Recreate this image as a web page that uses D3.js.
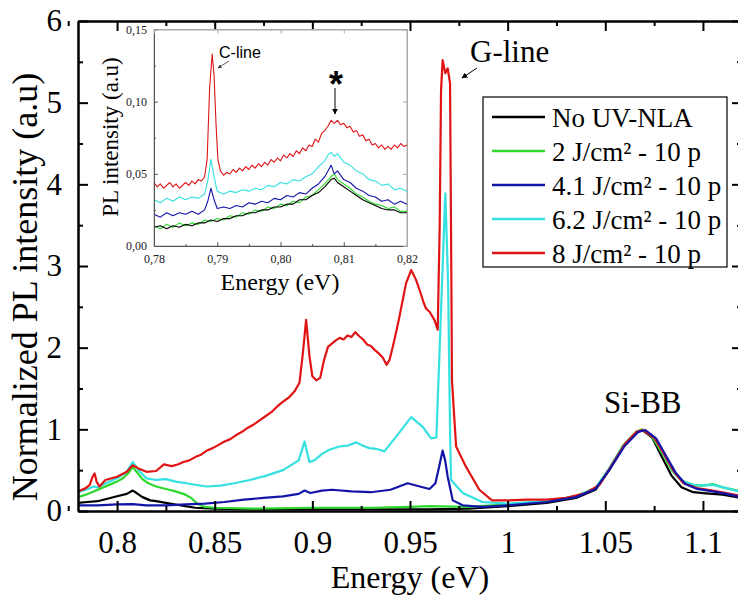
<!DOCTYPE html>
<html>
<head>
<meta charset="utf-8">
<script src="https://cdn.jsdelivr.net/npm/d3@7"></script>
<style>
  body { margin: 0; background: #fff; }
  svg { display: block; font-family: "Liberation Serif", "Times New Roman", serif; }
</style>
</head>
<body>
<svg id="chart" width="738" height="597"></svg>
<script>
"use strict";

// series names and colours (legend order)
const seriesNames = ["No UV-NLA", "2 J/cm\u00b2 - 10 p", "4.1 J/cm\u00b2 - 10 p", "6.2 J/cm\u00b2 - 10 p", "8 J/cm\u00b2 - 10 p"];
const seriesColors = ["#000000", "#2fd82f", "#1414a8", "#35e0e0", "#e01414"];

// main spectra: [energy eV, normalized intensity]
const blackMain = [[0.78,0.10],[0.785,0.11],[0.79,0.12],[0.795,0.15],[0.80,0.18],[0.805,0.21],[0.808,0.25],[0.810,0.22],[0.813,0.17],[0.817,0.13],[0.82,0.12],[0.825,0.10],[0.83,0.08],[0.835,0.06],[0.84,0.04],[0.85,0.03],[0.87,0.02],[0.9,0.02],[0.93,0.02],[0.96,0.02],[0.98,0.03],[1.0,0.06],[1.02,0.10],[1.035,0.16],[1.045,0.26],[1.052,0.50],[1.059,0.78],[1.0657,0.96],[1.069,0.99],[1.074,0.90],[1.079,0.66],[1.084,0.43],[1.089,0.29],[1.095,0.23],[1.10,0.22],[1.11,0.20],[1.12,0.16]];
const greenMain = [[0.78,0.17],[0.784,0.20],[0.788,0.24],[0.792,0.28],[0.796,0.32],[0.80,0.36],[0.803,0.40],[0.806,0.47],[0.808,0.54],[0.810,0.48],[0.813,0.39],[0.816,0.34],[0.82,0.30],[0.825,0.27],[0.83,0.24],[0.835,0.20],[0.838,0.16],[0.841,0.09],[0.845,0.05],[0.85,0.04],[0.87,0.03],[0.9,0.04],[0.93,0.04],[0.95,0.05],[0.96,0.06],[0.98,0.05],[1.0,0.08],[1.02,0.12],[1.035,0.18],[1.045,0.28],[1.052,0.52],[1.059,0.80],[1.0657,0.97],[1.069,1.0],[1.074,0.91],[1.079,0.71],[1.084,0.50],[1.089,0.37],[1.095,0.32],[1.10,0.31],[1.105,0.33],[1.11,0.29],[1.12,0.24]];
const blueMain = [[0.78,0.07],[0.79,0.07],[0.80,0.08],[0.808,0.085],[0.815,0.07],[0.825,0.07],[0.835,0.08],[0.845,0.09],[0.855,0.11],[0.865,0.14],[0.875,0.16],[0.885,0.18],[0.893,0.21],[0.896,0.25],[0.899,0.22],[0.905,0.25],[0.91,0.26],[0.92,0.24],[0.93,0.23],[0.94,0.26],[0.9488,0.34],[0.955,0.30],[0.960,0.27],[0.963,0.34],[0.965,0.55],[0.9667,0.74],[0.968,0.62],[0.9693,0.42],[0.9719,0.13],[0.977,0.07],[0.987,0.05],[1.0,0.07],[1.02,0.11],[1.035,0.17],[1.045,0.27],[1.052,0.50],[1.06,0.80],[1.067,0.97],[1.0705,0.99],[1.076,0.89],[1.081,0.68],[1.086,0.47],[1.091,0.33],[1.097,0.27],[1.105,0.24],[1.112,0.21],[1.12,0.17]];
const cyanMain = [[0.78,0.23],[0.785,0.27],[0.788,0.30],[0.79,0.29],[0.795,0.35],[0.80,0.40],[0.805,0.48],[0.808,0.60],[0.811,0.50],[0.815,0.40],[0.82,0.38],[0.825,0.39],[0.83,0.36],[0.8354,0.34],[0.8457,0.30],[0.853,0.31],[0.86,0.34],[0.868,0.38],[0.876,0.43],[0.885,0.50],[0.893,0.62],[0.896,0.85],[0.8985,0.60],[0.901,0.62],[0.905,0.70],[0.9087,0.75],[0.9138,0.79],[0.918,0.80],[0.9224,0.84],[0.926,0.80],[0.9292,0.77],[0.933,0.76],[0.9369,0.73],[0.9429,0.91],[0.9506,1.15],[0.9565,1.03],[0.9608,0.89],[0.9635,0.90],[0.9655,2.2],[0.9681,3.89],[0.9695,2.8],[0.9705,1.0],[0.971,0.38],[0.977,0.22],[0.987,0.11],[1.0,0.09],[1.02,0.12],[1.035,0.18],[1.045,0.28],[1.052,0.52],[1.059,0.79],[1.066,0.97],[1.0695,0.99],[1.075,0.90],[1.08,0.69],[1.085,0.48],[1.09,0.36],[1.097,0.31],[1.105,0.32],[1.112,0.28],[1.12,0.23]];
const redMain = [[0.78,0.24],[0.784,0.28],[0.786,0.32],[0.7875,0.42],[0.7885,0.46],[0.7895,0.36],[0.791,0.30],[0.794,0.38],[0.80,0.42],[0.805,0.48],[0.808,0.56],[0.811,0.52],[0.815,0.48],[0.82,0.49],[0.824,0.57],[0.828,0.55],[0.831,0.57],[0.834,0.60],[0.837,0.62],[0.840,0.66],[0.843,0.69],[0.846,0.74],[0.849,0.77],[0.852,0.81],[0.855,0.85],[0.858,0.88],[0.861,0.93],[0.864,0.97],[0.867,1.02],[0.870,1.06],[0.873,1.11],[0.876,1.16],[0.879,1.21],[0.882,1.28],[0.885,1.34],[0.888,1.39],[0.891,1.47],[0.8934,1.57],[0.895,1.9],[0.8968,2.34],[0.8985,1.9],[0.900,1.65],[0.902,1.60],[0.904,1.63],[0.906,1.85],[0.908,2.01],[0.910,2.05],[0.912,2.09],[0.914,2.12],[0.916,2.10],[0.918,2.15],[0.920,2.13],[0.922,2.19],[0.924,2.14],[0.926,2.10],[0.928,2.04],[0.930,2.02],[0.932,1.97],[0.934,1.93],[0.936,1.88],[0.938,1.79],[0.9395,1.85],[0.9412,2.01],[0.943,2.20],[0.9446,2.38],[0.946,2.55],[0.948,2.79],[0.9506,2.95],[0.9531,2.83],[0.955,2.70],[0.957,2.55],[0.9582,2.48],[0.960,2.44],[0.9625,2.34],[0.9642,2.22],[0.9652,3.5],[0.9659,5.15],[0.9667,5.52],[0.9681,5.36],[0.9693,5.42],[0.9705,5.24],[0.971,3.5],[0.9715,1.6],[0.9736,0.79],[0.9787,0.54],[0.9855,0.26],[0.992,0.13],[1.0,0.13],[1.01,0.14],[1.02,0.14],[1.03,0.16],[1.04,0.22],[1.047,0.32],[1.053,0.55],[1.06,0.82],[1.066,0.97],[1.069,0.99],[1.075,0.90],[1.08,0.70],[1.085,0.49],[1.09,0.34],[1.097,0.28],[1.105,0.25],[1.112,0.22],[1.12,0.18]];

// inset spectra: [energy eV, PL intensity]
const blackInset = [[0.78,0.013],[0.781,0.014],[0.782,0.012],[0.783,0.014],[0.784,0.013],[0.785,0.015],[0.786,0.014],[0.787,0.016],[0.788,0.016],[0.789,0.018],[0.790,0.017],[0.791,0.019],[0.792,0.019],[0.793,0.021],[0.794,0.021],[0.795,0.023],[0.796,0.023],[0.797,0.025],[0.798,0.025],[0.799,0.027],[0.800,0.027],[0.801,0.029],[0.802,0.029],[0.803,0.032],[0.804,0.032],[0.805,0.035],[0.806,0.037],[0.807,0.041],[0.808,0.046],[0.8085,0.047],[0.809,0.044],[0.810,0.041],[0.811,0.038],[0.812,0.035],[0.813,0.032],[0.814,0.030],[0.815,0.028],[0.816,0.026],[0.817,0.025],[0.818,0.025],[0.819,0.023],[0.82,0.023]];
const greenInset = [[0.78,0.014],[0.781,0.012],[0.782,0.015],[0.783,0.013],[0.784,0.016],[0.785,0.014],[0.786,0.016],[0.787,0.015],[0.788,0.018],[0.789,0.017],[0.790,0.019],[0.791,0.018],[0.792,0.021],[0.793,0.020],[0.794,0.023],[0.795,0.022],[0.796,0.025],[0.797,0.024],[0.798,0.027],[0.799,0.026],[0.800,0.029],[0.801,0.028],[0.802,0.031],[0.803,0.030],[0.804,0.034],[0.805,0.035],[0.806,0.039],[0.807,0.043],[0.808,0.048],[0.8085,0.050],[0.809,0.046],[0.810,0.043],[0.811,0.040],[0.812,0.036],[0.813,0.034],[0.814,0.031],[0.815,0.029],[0.816,0.028],[0.817,0.026],[0.818,0.027],[0.819,0.024],[0.82,0.024]];
const blueInset = [[0.78,0.022],[0.781,0.020],[0.782,0.023],[0.783,0.021],[0.784,0.023],[0.785,0.022],[0.786,0.024],[0.787,0.022],[0.788,0.025],[0.7885,0.031],[0.789,0.040],[0.7895,0.032],[0.790,0.026],[0.791,0.027],[0.792,0.026],[0.793,0.028],[0.794,0.027],[0.795,0.030],[0.796,0.029],[0.797,0.031],[0.798,0.030],[0.799,0.033],[0.800,0.032],[0.801,0.035],[0.802,0.034],[0.803,0.037],[0.804,0.036],[0.805,0.040],[0.806,0.043],[0.807,0.048],[0.808,0.056],[0.8085,0.050],[0.809,0.052],[0.810,0.046],[0.811,0.044],[0.812,0.040],[0.813,0.038],[0.814,0.035],[0.815,0.034],[0.816,0.031],[0.817,0.032],[0.818,0.029],[0.819,0.031],[0.82,0.029]];
const cyanInset = [[0.78,0.032],[0.781,0.030],[0.782,0.033],[0.783,0.031],[0.784,0.034],[0.785,0.032],[0.786,0.034],[0.787,0.033],[0.788,0.036],[0.7885,0.045],[0.789,0.060],[0.7895,0.048],[0.790,0.038],[0.791,0.036],[0.792,0.038],[0.793,0.037],[0.794,0.039],[0.795,0.038],[0.796,0.040],[0.797,0.039],[0.798,0.042],[0.799,0.041],[0.800,0.044],[0.801,0.043],[0.802,0.046],[0.803,0.045],[0.804,0.048],[0.805,0.050],[0.806,0.055],[0.807,0.059],[0.8075,0.063],[0.808,0.065],[0.8085,0.062],[0.809,0.064],[0.810,0.058],[0.811,0.056],[0.812,0.052],[0.813,0.050],[0.814,0.046],[0.815,0.045],[0.816,0.042],[0.817,0.043],[0.818,0.039],[0.819,0.040],[0.82,0.038]];
const redInset = [[0.78,0.044],[0.7805,0.041],[0.781,0.043],[0.7815,0.040],[0.782,0.042],[0.7825,0.044],[0.783,0.041],[0.7835,0.043],[0.784,0.040],[0.7845,0.042],[0.785,0.044],[0.7855,0.042],[0.786,0.045],[0.7865,0.043],[0.787,0.046],[0.7875,0.045],[0.788,0.048],[0.7884,0.060],[0.7888,0.110],[0.7892,0.133],[0.7895,0.118],[0.7898,0.085],[0.7901,0.060],[0.7905,0.052],[0.791,0.049],[0.7915,0.051],[0.792,0.050],[0.7925,0.053],[0.793,0.051],[0.7935,0.054],[0.794,0.052],[0.7945,0.055],[0.795,0.053],[0.7955,0.056],[0.796,0.054],[0.7965,0.057],[0.797,0.055],[0.7975,0.058],[0.798,0.056],[0.7985,0.060],[0.799,0.058],[0.7995,0.061],[0.800,0.059],[0.8005,0.063],[0.801,0.061],[0.8015,0.064],[0.802,0.062],[0.8025,0.066],[0.803,0.064],[0.8035,0.068],[0.804,0.066],[0.8045,0.070],[0.805,0.069],[0.8055,0.074],[0.806,0.072],[0.8065,0.078],[0.807,0.080],[0.8075,0.083],[0.808,0.087],[0.8085,0.085],[0.809,0.087],[0.8095,0.084],[0.810,0.085],[0.8105,0.082],[0.811,0.083],[0.8115,0.079],[0.812,0.080],[0.8125,0.076],[0.813,0.077],[0.8135,0.073],[0.814,0.074],[0.8145,0.070],[0.815,0.071],[0.8155,0.068],[0.816,0.070],[0.8165,0.067],[0.817,0.069],[0.8175,0.067],[0.818,0.070],[0.8185,0.068],[0.819,0.071],[0.8195,0.069],[0.82,0.070]];

// ticks
const mainXTicks = [0.8, 0.85, 0.9, 0.95, 1, 1.05, 1.1];
const mainXMinor = [0.775, 0.825, 0.875, 0.925, 0.975, 1.025, 1.075, 1.125];
const mainYTicks = [0, 1, 2, 3, 4, 5, 6];
const mainYMinor = [0.5, 1.5, 2.5, 3.5, 4.5, 5.5];
const insetXTicks = [0.78, 0.79, 0.80, 0.81, 0.82];
const insetXMinor = [0.785, 0.795, 0.805, 0.815];
const insetYTicks = [0, 0.05, 0.10, 0.15];
const insetYMinor = [0.025, 0.075, 0.125];

const mainSeries = [blackMain, greenMain, blueMain, cyanMain, redMain];
const insetSeries = [blackInset, greenInset, blueInset, cyanInset, redInset];
const drawOrder = [0, 1, 3, 4, 2];
const insetOrder = [1, 0, 2, 3, 4];

const serif = "Liberation Serif";
const svg = d3.select("#chart");

// ---------- main plot ----------
const x = d3.scaleLinear().domain([0.78, 1.12]).range([78, 742]);
const y = d3.scaleLinear().domain([0, 6]).range([511, 21]);

const line = d3.line().x(d => x(d[0])).y(d => y(d[1]));

svg.append("clipPath").attr("id", "mainClip")
    .append("rect").attr("x", x.range()[0]).attr("y", y.range()[1])
    .attr("width", x.range()[1] - x.range()[0]).attr("height", y.range()[0] - y.range()[1]);

const curves = svg.append("g").attr("clip-path", "url(#mainClip)");
drawOrder.forEach(i => {
    curves.append("path")
        .datum(mainSeries[i])
        .attr("fill", "none")
        .attr("stroke", seriesColors[i])
        .attr("stroke-width", 2.2)
        .attr("stroke-linejoin", "round")
        .attr("d", line);
});

function styleAxis(g) {
    g.attr("font-family", serif);
    g.select(".domain").attr("stroke", "#000").attr("stroke-width", 2);
    g.selectAll(".tick line").attr("stroke", "#000").attr("stroke-width", 2);
    g.selectAll(".tick text").attr("font-size", 31).attr("fill", "#000");
}

function addAxis(axis, transform, values, size, fmt) {
    svg.append("g").attr("transform", transform)
        .call(axis.tickValues(values).tickSizeInner(-size).tickSizeOuter(0).tickFormat(fmt))
        .call(styleAxis);
}

addAxis(d3.axisBottom(x).tickPadding(20), `translate(0,${y(0)})`, mainXTicks, 10, d3.format(""));
addAxis(d3.axisBottom(x), `translate(0,${y(0)})`, mainXMinor, 5, "");
addAxis(d3.axisTop(x), `translate(0,${y(6)})`, mainXTicks, 10, "");
addAxis(d3.axisTop(x), `translate(0,${y(6)})`, mainXMinor, 5, "");
addAxis(d3.axisLeft(y).tickPadding(16), `translate(${x(0.78)},0)`, mainYTicks, 10, d3.format("d"));
addAxis(d3.axisLeft(y), `translate(${x(0.78)},0)`, mainYMinor, 5, "");
addAxis(d3.axisRight(y), `translate(${x(1.12)},0)`, mainYTicks, 10, "");
addAxis(d3.axisRight(y), `translate(${x(1.12)},0)`, mainYMinor, 5, "");

// axis titles
svg.append("text")
    .attr("x", 410).attr("y", 588)
    .attr("text-anchor", "middle").attr("font-size", 32)
    .text("Energy (eV)");
svg.append("text")
    .attr("transform", "translate(37,287) rotate(-90)")
    .attr("text-anchor", "middle").attr("font-size", 36)
    .text("Normalized PL intensity (a.u)");

// peak labels
svg.append("defs").html(
    '<marker id="arrowHead" viewBox="0 0 10 10" refX="9" refY="5" markerWidth="6" markerHeight="6" orient="auto-start-reverse">' +
    '<path d="M0,0 L10,5 L0,10 z" fill="#000"/></marker>' +
    '<marker id="arrowSmall" viewBox="0 0 10 10" refX="9" refY="5" markerWidth="5" markerHeight="5" orient="auto-start-reverse">' +
    '<path d="M0,0 L10,5 L0,10 z" fill="#333"/></marker>');

svg.append("text").attr("x", 470).attr("y", 62).attr("font-size", 31).text("G-line");
svg.append("line").attr("x1", 477).attr("y1", 68).attr("x2", 462).attr("y2", 78)
    .attr("stroke", "#000").attr("stroke-width", 1).attr("marker-end", "url(#arrowHead)");
svg.append("text").attr("x", 604).attr("y", 413).attr("font-size", 31).text("Si-BB");

// legend
const legend = svg.append("g");
legend.append("rect").attr("x", 483).attr("y", 97).attr("width", 244).attr("height", 170)
    .attr("fill", "#fff").attr("stroke", "#000").attr("stroke-width", 1.2);
seriesNames.forEach((name, i) => {
    const ly = 117 + i * 34;
    legend.append("line").attr("x1", 492).attr("x2", 545).attr("y1", ly).attr("y2", ly)
        .attr("stroke", seriesColors[i]).attr("stroke-width", 2.5);
    legend.append("text").attr("x", 552).attr("y", ly + 10).attr("font-size", 27).text(name);
});

// ---------- inset ----------
const ix = d3.scaleLinear().domain([0.78, 0.82]).range([154, 407]);
const iy = d3.scaleLinear().domain([0, 0.15]).range([246, 29.5]);
const iline = d3.line().x(d => ix(d[0])).y(d => iy(d[1]));
const commaFmt = d => d3.format(".2f")(d).replace(".", ",");

const inset = svg.append("g");
inset.append("rect").attr("x", 154).attr("y", 29.5).attr("width", 253).attr("height", 216.5)
    .attr("fill", "#fff").attr("stroke", "#aaa").attr("stroke-width", 1);

insetOrder.forEach(i => {
    inset.append("path")
        .datum(insetSeries[i])
        .attr("fill", "none")
        .attr("stroke", seriesColors[i])
        .attr("stroke-width", 1.1)
        .attr("stroke-linejoin", "round")
        .attr("d", iline);
});

function styleInset(g, col) {
    g.attr("font-family", serif);
    g.select(".domain").attr("stroke", col).attr("stroke-width", 1);
    g.selectAll(".tick line").attr("stroke", col).attr("stroke-width", 1);
    g.selectAll(".tick text").attr("font-size", 12).attr("fill", "#222");
}
function addInsetAxis(axis, transform, values, size, fmt, col) {
    inset.append("g").attr("transform", transform)
        .call(axis.tickValues(values).tickSizeInner(-size).tickSizeOuter(0).tickFormat(fmt))
        .call(g => styleInset(g, col));
}
addInsetAxis(d3.axisBottom(ix).tickPadding(8), `translate(0,${iy(0)})`, insetXTicks, 4, commaFmt, "#555");
addInsetAxis(d3.axisBottom(ix), `translate(0,${iy(0)})`, insetXMinor, 2, "", "#555");
addInsetAxis(d3.axisLeft(iy).tickPadding(7), `translate(${ix(0.78)},0)`, insetYTicks, 4, commaFmt, "#555");
addInsetAxis(d3.axisLeft(iy), `translate(${ix(0.78)},0)`, insetYMinor, 2, "", "#555");
addInsetAxis(d3.axisRight(iy), `translate(${ix(0.82)},0)`, insetYTicks, 4, "", "#aaa");
addInsetAxis(d3.axisTop(ix), `translate(0,${iy(0.15)})`, insetXTicks, 4, "", "#aaa");

inset.append("text").attr("x", 280).attr("y", 290)
    .attr("text-anchor", "middle").attr("font-size", 24).text("Energy (eV)");
inset.append("text").attr("transform", "translate(118,137) rotate(-90)")
    .attr("text-anchor", "middle").attr("font-size", 23).text("PL intensity (a.u)");

inset.append("text").attr("x", 219).attr("y", 58)
    .attr("font-family", "Liberation Sans").attr("font-size", 16).text("C-line");
inset.append("line").attr("x1", 229).attr("y1", 61).attr("x2", 218).attr("y2", 68)
    .attr("stroke", "#333").attr("stroke-width", 0.8).attr("marker-end", "url(#arrowSmall)");
inset.append("text").attr("x", 336).attr("y", 97).attr("text-anchor", "middle")
    .attr("font-family", "Liberation Sans").attr("font-weight", "bold").attr("font-size", 36).text("*");
inset.append("line").attr("x1", 335).attr("y1", 88).attr("x2", 335).attr("y2", 114)
    .attr("stroke", "#000").attr("stroke-width", 1).attr("marker-end", "url(#arrowHead)");
</script>
</body>
</html>
